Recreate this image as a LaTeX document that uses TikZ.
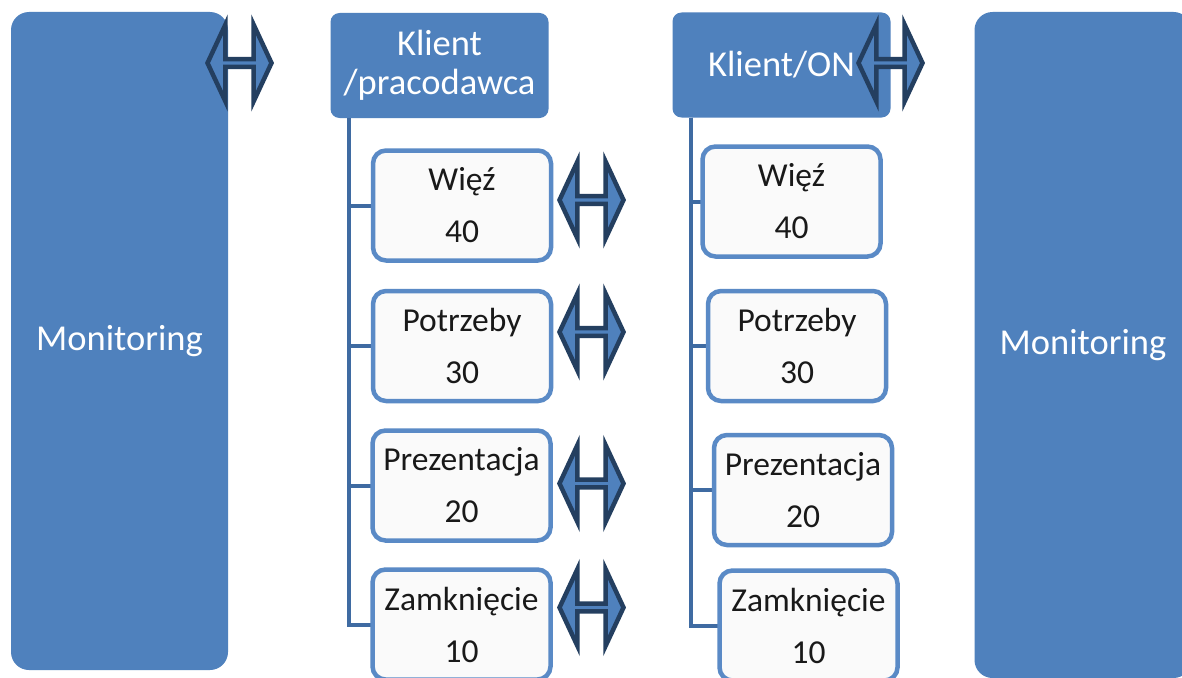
\documentclass[tikz,border=0pt]{standalone}
\usepackage{fontspec}
\setmainfont{Carlito}
\usetikzlibrary{shapes.arrows,positioning,calc}

\definecolor{mainblue}{HTML}{4F81BD}
\definecolor{edgeblue}{HTML}{5A8AC6}
\definecolor{treeblue}{HTML}{3F6BA2}
\definecolor{navyblue}{HTML}{243F60}
\definecolor{boxfill}{HTML}{FAFAFA}

\begin{document}
\begin{tikzpicture}[x=1pt, y=-1pt,
  monitor/.style={fill=mainblue, rounded corners=18pt, text=white, inner sep=0pt,
    font=\fontsize{36.5}{39}\selectfont, minimum width=217pt, minimum height=658pt},
  header/.style={fill=mainblue, rounded corners=9pt, text=white, align=center, inner sep=0pt,
    font=\fontsize{36.5}{39}\selectfont, minimum width=218pt, minimum height=105pt},
  stage/.style={draw=edgeblue, line width=4.5pt, fill=boxfill, rounded corners=13pt, align=center,
    inner sep=0pt, text=black!90, font=\fontsize{33.5}{52}\selectfont,
    minimum width=178pt, minimum height=110pt},
  link/.style={double arrow, draw=navyblue, fill=mainblue, line width=4.5pt, inner sep=0pt,
    minimum height=64pt, minimum width=77pt, double arrow head extend=20pt,
    double arrow tip angle=130},
  branch/.style={draw=treeblue, line width=4pt}
]

\useasboundingbox (0,0) rectangle (1182,677);
\clip (0,0) rectangle (1182,677);
\fill[white] (0,0) rectangle (1182,677);

% Monitoring columns
\node[monitor] (monLeft) at (119.5,341) {Monitoring};
\node[monitor, minimum height=666pt] (monRight) at (1083,345) {Monitoring};

% Headers
\node[header] (hdLeft) at (439.5,65.5) {Klient\\/pracodawca};
\node[header] (hdRight) at (781.5,65) {Klient/ON};

% Tree trunks
\coordinate (trunkLeft) at ([xshift=19pt]hdLeft.south west);
\coordinate (trunkRight) at ([xshift=19pt]hdRight.south west);

% Stages, both sides
\foreach \lbl/\num/\xa/\ya/\xb/\yb [count=\i] in {
  Więź/40/462/205.5/791.5/201.5,
  Potrzeby/30/462/346/797/346,
  Prezentacja/20/461.5/485.5/803/490,
  Zamknięcie/10/461.5/624.5/808.5/625.5} {
  \draw[branch] (trunkLeft) |- (\xa-90,\ya);
  \draw[branch] (trunkRight) |- (\xb-90,\yb);
  \node[stage] (left\i) at (\xa,\ya) {\lbl\\\num};
  \node[stage] (right\i) at (\xb,\yb) {\lbl\\\num};
}

% Double arrows
\node[link] (linkMon) at (239.5,63) {};
\node[link] (linkOn) at (890.5,63) {};
\foreach \y [count=\i] in {200,332,483.5,607.5}
  \node[link] (pair\i) at (591.5,\y) {};

\end{tikzpicture}
\end{document}
